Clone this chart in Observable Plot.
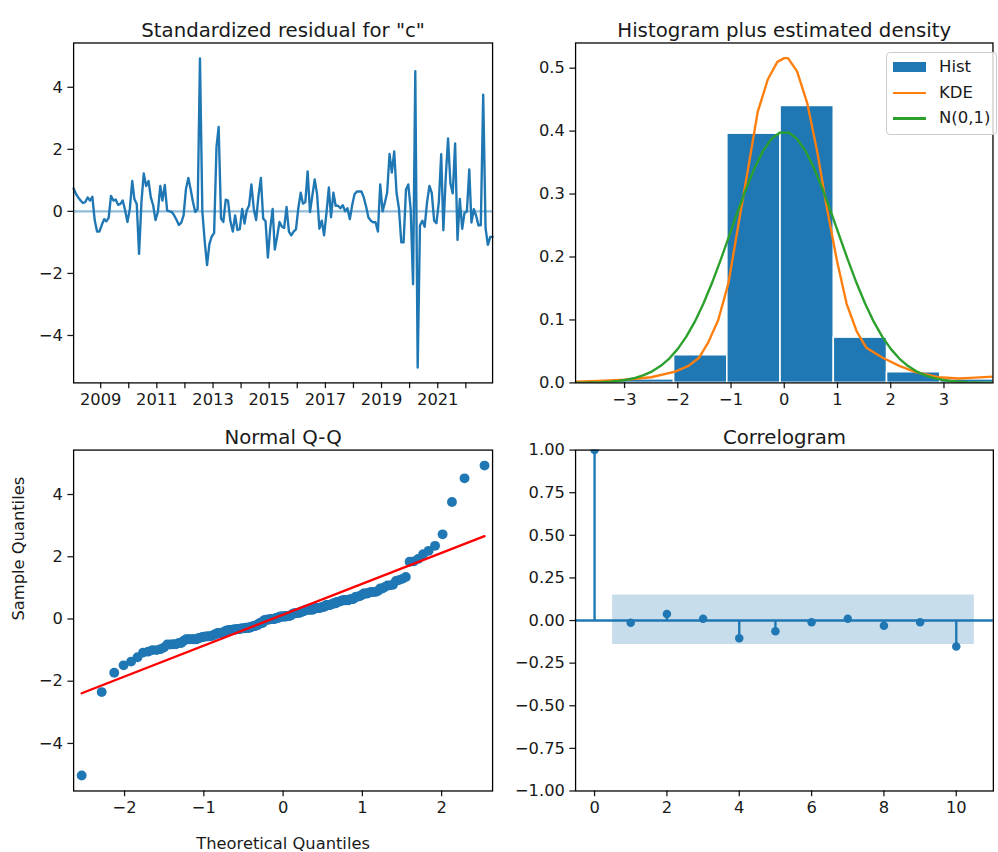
<!DOCTYPE html>
<html>
<head>
<meta charset="utf-8">
<script src="https://cdn.jsdelivr.net/npm/d3@7"></script>
<script src="https://cdn.jsdelivr.net/npm/@observablehq/plot@0.6"></script>
<style>
  html, body { margin: 0; padding: 0; background: #fff; overflow: hidden; }
  #fig { position: relative; width: 998px; height: 852px; overflow: hidden; font-family: "DejaVu Sans", sans-serif; }
  #fig svg { position: absolute; left: 0; top: 0; pointer-events: none; }
  .legend { position: absolute; box-sizing: border-box; border: 1px solid #cccccc; border-radius: 4px;
            background: rgba(255,255,255,0.8); font-size: 16.5px; color: #1a1a1a; }
  .legend .item { position: absolute; left: 0; height: 20px; width: 100%; }
  .legend .sw { position: absolute; }
  .legend .lab { position: absolute; left: 52px; top: 0; line-height: 20px; white-space: nowrap; }
</style>
</head>
<body>
<div id="fig"></div>
<script>
// ---- data -------------------------------------------------------------
// standardized residuals, monthly from January 2008
const residualStartYear = 2008;
const residuals = [
  0.74, 0.56, 0.45, 0.35, 0.27, 0.30, 0.45, 0.35, 0.47, -0.28,
  -0.65, -0.65, -0.44, -0.25, -0.32, -0.21, 0.50, 0.35, 0.38, 0.21,
  0.24, 0.35, 0.03, -0.34, 0.08, 0.98, 0.40, 0.24, -1.37, 0.30,
  1.22, 0.82, 0.98, 0.45, 0.19, -0.28, -0.02, 0.82, 0.35, 0.85,
  0.03, 0.00, -0.02, -0.13, -0.28, -0.44, -0.36, -0.13, 0.72, 1.08,
  0.72, 0.30, -0.02, 0.08, 4.93, 0.00, -0.97, -1.73, -1.05, -0.81,
  -0.70, 2.08, 2.72, -0.23, -0.34, 0.38, 0.35, -0.32, -0.65, -0.13,
  -0.60, -0.57, 0.08, -0.39, 0.03, 0.19, 0.87, 0.08, -0.28, 0.50,
  1.08, -0.23, -0.32, -1.49, -0.55, 0.08, -1.23, -0.81, -0.34, -0.49,
  -0.53, 0.14, -0.65, -0.77, -0.65, -0.58, 0.10, 0.60, 0.25, 0.30,
  1.29, -0.02, 0.50, 1.03, 0.55, -0.56, -0.30, -0.77, -0.05, 0.77,
  -0.19, 0.60, 0.18, 0.18, 0.10, 0.20, 0.00, 0.10, -0.25, 0.20,
  0.55, 0.64, 0.64, 0.64, 0.45, 0.15, -0.20, -0.30, -0.35, -0.35,
  -0.65, 0.87, 0.00, 0.30, 0.60, 1.85, 1.25, 1.93, 0.60, 0.10,
  -1.00, -1.00, 0.70, 0.87, 0.07, -2.35, 4.52, -5.03, -0.45, -0.30,
  -0.50, 0.30, 0.82, 0.60, -0.30, -0.38, 0.30, 1.84, -0.61, 1.10,
  2.35, 0.90, 0.58, 2.19, -0.92, 0.40, -0.56, -0.05, 0.00, 1.35,
  -0.36, 0.07, -0.14, -0.45, -0.45, 3.76, -0.55, -1.08, -0.82, -0.82
];
const yearTicksLabeled = [2009, 2011, 2013, 2015, 2017, 2019, 2021];
const yearTicksMinor = [2010, 2012, 2014, 2016, 2018, 2020, 2022];

// histogram (density) of the residuals
const histEdges = [-5.07, -4.07, -3.07, -2.07, -1.07, -0.07, 0.93, 1.93, 2.93, 3.93, 4.93];
const histDensity = [0.0056, 0, 0.0056, 0.044, 0.396, 0.44, 0.072, 0.017, 0.0056, 0.011];

// kernel density estimate of the residuals
const kdeX = [-3.92, -3.5, -3.0, -2.5, -2.05, -1.8, -1.6, -1.43, -1.24, -1.05, -0.87, -0.68, -0.5,
              -0.31, -0.13, 0, 0.07, 0.24, 0.43, 0.62, 0.8, 0.99, 1.17, 1.36, 1.54, 1.85, 2.16, 2.47,
              2.9, 3.28, 3.5, 3.92];
const kdeY = [0.002, 0.003, 0.005, 0.009, 0.018, 0.027, 0.040, 0.064, 0.100, 0.158, 0.247, 0.340, 0.430,
              0.482, 0.510, 0.516, 0.516, 0.495, 0.445, 0.367, 0.278, 0.194, 0.126, 0.082, 0.056, 0.040,
              0.027, 0.017, 0.009, 0.007, 0.008, 0.010];

// autocorrelation of the residuals, lags 0..10, with the confidence band
const acfLags = [0, 1, 2, 3, 4, 5, 6, 7, 8, 9, 10];
const acfValues = [1.0, -0.013, 0.038, 0.010, -0.104, -0.063, -0.010, 0.010, -0.030, -0.010, -0.152];
const confUpper = [0.15, 0.15, 0.15, 0.15, 0.15, 0.15, 0.15, 0.15, 0.15, 0.15];
const confLower = [-0.14, -0.14, -0.14, -0.14, -0.14, -0.14, -0.14, -0.14, -0.14, -0.14];

const legendItems = [
  {label: "Hist", kind: "patch", color: "#1f77b4"},
  {label: "KDE", kind: "line", color: "#ff7f0e"},
  {label: "N(0,1)", kind: "line", color: "#2ca02c"}
];

// ---- helpers ----------------------------------------------------------
const C0 = "#1f77b4", C1 = "#ff7f0e", C2 = "#2ca02c";
const INK = "#1a1a1a";
const LW = 2.4;
const W = 1010, H = 852;
const baseStyle = {fontFamily: "DejaVu Sans, sans-serif", fontSize: "16.5px", color: INK, background: "transparent", overflow: "visible"};
function box(f) {
  return {width: W, height: H, marginLeft: f.left, marginTop: f.top, marginRight: W - f.right, marginBottom: H - f.bottom};
}
function pad(ext, m) { const r = ext[1] - ext[0]; return [ext[0] - m * r, ext[1] + m * r]; }
const axisOpts = {tickSize: 5.8, tickPadding: 5, strokeWidth: 1.3, label: null};
const titleOpts = {frameAnchor: "top", lineAnchor: "bottom", dy: -6, fontSize: 20, fill: INK, text: d => d};
const frameOpts = {stroke: "#000", strokeWidth: 1.3};
const intFmt = d3.format("d");

// inverse standard normal CDF (Acklam's rational approximation)
function normInv(p) {
  const a = [-3.969683028665376e+01, 2.209460984245205e+02, -2.759285104469687e+02, 1.383577518672690e+02, -3.066479806614716e+01, 2.506628277459239e+00];
  const b = [-5.447609879822406e+01, 1.615858368580409e+02, -1.556989798598866e+02, 6.680131188771972e+01, -1.328068155288572e+01];
  const c = [-7.784894002430293e-03, -3.223964580411365e-01, -2.400758277161838e+00, -2.549732539343734e+00, 4.374664141464968e+00, 2.938163982698783e+00];
  const d = [7.784695709041462e-03, 3.224671290700398e-01, 2.445134137142996e+00, 3.754408661907416e+00];
  const pl = 0.02425;
  if (p < pl) {
    const q = Math.sqrt(-2 * Math.log(p));
    return (((((c[0]*q+c[1])*q+c[2])*q+c[3])*q+c[4])*q+c[5]) / ((((d[0]*q+d[1])*q+d[2])*q+d[3])*q+1);
  }
  if (p > 1 - pl) return -normInv(1 - p);
  const q = p - 0.5, r = q * q;
  return (((((a[0]*r+a[1])*r+a[2])*r+a[3])*r+a[4])*r+a[5])*q / (((((b[0]*r+b[1])*r+b[2])*r+b[3])*r+b[4])*r+1);
}
const normPdf = x => Math.exp(-x * x / 2) / Math.sqrt(2 * Math.PI);

// ---- derived tables ---------------------------------------------------
const residTable = residuals.map((v, i) => ({date: new Date(Date.UTC(residualStartYear, i, 15)), value: v}));
const dateExtent = [residTable[0].date, residTable[residTable.length - 1].date];
const residDomain = pad(d3.extent(residuals), 0.05);

const bins = histDensity.map((dens, i) => ({x1: histEdges[i], x2: histEdges[i + 1], density: dens}));
const kde = kdeX.map((x, i) => ({x, y: kdeY[i]}));
const histXlim = [-1.96 * 2, 1.96 * 2];
const normal = d3.range(50).map(i => {
  const x = histXlim[0] + i * (histXlim[1] - histXlim[0]) / 49;
  return {x, y: normPdf(x)};
});

const n = residuals.length;
const sorted = residuals.slice().sort((a, b) => a - b);
const qq = sorted.map((s, i) => ({theo: normInv((i + 1) / (n + 1)), sample: s}));
const mean = d3.mean(residuals);
const sd = Math.sqrt(d3.mean(residuals, v => (v - mean) ** 2));
const qqLine = [qq[0], qq[n - 1]].map(d => ({theo: d.theo, fit: mean + sd * d.theo}));
const qqX = pad(d3.extent(qq, d => d.theo), 0.02);

const acf = acfLags.map((lag, i) => ({lag, value: acfValues[i]}));
const band = confUpper.map((hi, i) => {
  const lag = acfLags[i + 1];
  const x = i === 0 ? lag - 0.5 : i === confUpper.length - 1 ? lag + 0.5 : lag;
  return {x, hi, lo: confLower[i]};
});
const acfX = pad([acfLags[0], band[band.length - 1].x], 0.05);

// ---- panels -----------------------------------------------------------
const fig = document.getElementById("fig");

// top left: standardized residuals over time
fig.append(Plot.plot({
  ...box({left: 74, top: 43, right: 498, bottom: 387}),
  style: baseStyle,
  x: {type: "utc", domain: dateExtent, label: null},
  y: {domain: residDomain, label: null},
  marks: [
    Plot.ruleY([0], {x1: dateExtent[0], x2: dateExtent[1], stroke: C0, strokeOpacity: 0.5, strokeWidth: LW}),
    Plot.lineY(residTable, {x: "date", y: "value", stroke: C0, strokeWidth: LW}),
    Plot.axisY({...axisOpts, ticks: [-4, -2, 0, 2, 4], tickFormat: intFmt}),
    Plot.axisX({...axisOpts, ticks: yearTicksLabeled.map(y => new Date(Date.UTC(y, 0, 1))), tickFormat: d3.utcFormat("%Y")}),
    Plot.axisX({...axisOpts, ticks: yearTicksMinor.map(y => new Date(Date.UTC(y, 0, 1))), tickFormat: () => ""}),
    Plot.frame(frameOpts),
    Plot.text(['Standardized residual for "c"'], titleOpts)
  ]
}));

// top right: histogram with KDE and standard normal density
fig.append(Plot.plot({
  ...box({left: 582, top: 43, right: 1004.4, bottom: 387}),
  style: baseStyle,
  x: {domain: histXlim, label: null},
  y: {domain: [0, 0.54], label: null},
  marks: [
    Plot.rect(bins, {x1: "x1", x2: "x2", y1: 0, y2: "density", fill: C0, stroke: "#fff", strokeWidth: 1.6, clip: true}),
    Plot.line(kde, {x: "x", y: "y", stroke: C1, strokeWidth: LW, clip: true}),
    Plot.line(normal, {x: "x", y: "y", stroke: C2, strokeWidth: LW, clip: true}),
    Plot.axisY({...axisOpts, ticks: [0, 0.1, 0.2, 0.3, 0.4, 0.5], tickFormat: ".1f"}),
    Plot.axisX({...axisOpts, ticks: [-3, -2, -1, 0, 1, 2, 3], tickFormat: intFmt}),
    Plot.frame(frameOpts),
    Plot.text(["Histogram plus estimated density"], titleOpts)
  ]
}));

// bottom left: normal Q-Q plot
fig.append(Plot.plot({
  ...box({left: 74, top: 455, right: 498, bottom: 800}),
  style: baseStyle,
  x: {domain: qqX, label: null},
  y: {domain: pad(d3.extent(sorted), 0.05), label: null},
  marks: [
    Plot.dot(qq, {x: "theo", y: "sample", r: 5, fill: C0, stroke: "none"}),
    Plot.line(qqLine, {x: "theo", y: "fit", stroke: "#ff0000", strokeWidth: LW}),
    Plot.axisY({...axisOpts, ticks: [-4, -2, 0, 2, 4], tickFormat: intFmt}),
    Plot.axisX({...axisOpts, ticks: [-2, -1, 0, 1, 2], tickFormat: intFmt}),
    Plot.frame(frameOpts),
    Plot.text(["Normal Q-Q"], titleOpts),
    Plot.text(["Theoretical Quantiles"], {frameAnchor: "bottom", lineAnchor: "top", dy: 47, fontSize: 16.5, fill: INK, text: d => d}),
    Plot.text(["Sample Quantiles"], {frameAnchor: "left", dx: -55, rotate: -90, fontSize: 16.5, fill: INK, text: d => d})
  ]
}));

// bottom right: correlogram
fig.append(Plot.plot({
  ...box({left: 582, top: 455, right: 1004.8, bottom: 800}),
  style: baseStyle,
  x: {domain: acfX, label: null},
  y: {domain: [-1, 1], label: null},
  marks: [
    Plot.ruleX(acf, {x: "lag", y1: 0, y2: "value", stroke: C0, strokeWidth: LW}),
    Plot.ruleY([0], {stroke: C0, strokeWidth: LW}),
    Plot.dot(acf, {x: "lag", y: "value", r: 4.3, fill: C0, stroke: "none", clip: true}),
    Plot.areaY(band, {x: "x", y1: "lo", y2: "hi", fill: C0, fillOpacity: 0.25, curve: "step"}),
    Plot.axisY({...axisOpts, ticks: d3.range(-1, 1.001, 0.25), tickFormat: ".2f"}),
    Plot.axisX({...axisOpts, ticks: [0, 2, 4, 6, 8, 10], tickFormat: intFmt}),
    Plot.frame(frameOpts),
    Plot.text(["Correlogram"], titleOpts)
  ]
}));

// legend for the histogram panel
const legend = document.createElement("div");
legend.className = "legend";
Object.assign(legend.style, {left: "886px", top: "52px", width: "111px", height: "83px"});
legendItems.forEach((it, i) => {
  const row = document.createElement("div");
  row.className = "item";
  row.style.top = (4 + i * 25.5) + "px";
  const sw = document.createElement("div");
  sw.className = "sw";
  if (it.kind === "patch") Object.assign(sw.style, {left: "6px", top: "5px", width: "33px", height: "10px", background: it.color});
  else Object.assign(sw.style, {left: "6px", top: "9px", width: "33px", height: "2.5px", background: it.color});
  const lab = document.createElement("span");
  lab.className = "lab";
  lab.textContent = it.label;
  row.append(sw, lab);
  legend.append(row);
});
fig.append(legend);
</script>
</body>
</html>
